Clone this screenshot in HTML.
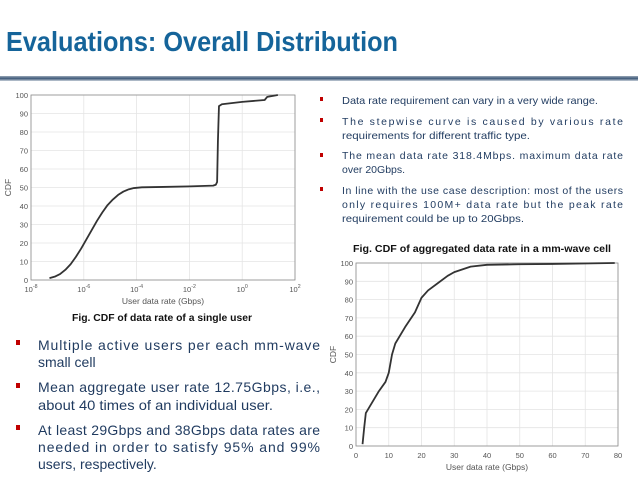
<!DOCTYPE html>
<html><head><meta charset="utf-8"><style>
html,body{margin:0;padding:0;background:#fff;}
svg{display:block;font-family:"Liberation Sans",sans-serif;}
.t{fill:#1f3a5f;}
</style></head><body>
<svg id="s" width="638" height="479" viewBox="0 0 638 479" xmlns="http://www.w3.org/2000/svg">
<defs><linearGradient id="g" x1="0" y1="0" x2="0" y2="1"><stop offset="0" stop-color="#9aa8b8"/><stop offset="0.5" stop-color="#3c5878"/><stop offset="1" stop-color="#c8d0da"/></linearGradient></defs>
<text x="6" y="51" font-size="28" font-weight="bold" fill="#15649a" textLength="392" lengthAdjust="spacingAndGlyphs">Evaluations:  Overall Distribution</text>
<rect x="0" y="76" width="638" height="5" fill="url(#g)"/>
<g id="left"></g>
<g id="right"></g>
<text x="72" y="321" font-size="10" font-weight="bold" fill="#111" textLength="180" lengthAdjust="spacingAndGlyphs">Fig. CDF of data rate of a single user</text>
<text x="353" y="252" font-size="10" font-weight="bold" fill="#111" textLength="258" lengthAdjust="spacingAndGlyphs">Fig. CDF of aggregated data rate in a mm-wave cell</text>
<g font-size="10.5" class="t">
<rect x="320" y="97" width="3" height="4" fill="#c00000"/><rect x="320" y="118" width="3" height="4" fill="#c00000"/><rect x="320" y="153" width="3" height="4" fill="#c00000"/><rect x="320" y="187" width="3" height="4" fill="#c00000"/>
<text x="342" y="104" textLength="256" lengthAdjust="spacingAndGlyphs">Data rate requirement can vary in a very wide range.</text>
<text x="342" y="125" textLength="281" lengthAdjust="spacing">The stepwise curve is caused by various rate</text>
<text x="342" y="139" textLength="188" lengthAdjust="spacingAndGlyphs">requirements for different traffic type.</text>
<text x="342" y="159" textLength="281" lengthAdjust="spacing">The mean data rate 318.4Mbps. maximum data rate</text>
<text x="342" y="173">over 20Gbps.</text>
<text x="342" y="194" textLength="281" lengthAdjust="spacing">In line with the use case description: most of the users</text>
<text x="342" y="208" textLength="281" lengthAdjust="spacing">only requires 100M+ data rate but the peak rate</text>
<text x="342" y="222" textLength="182" lengthAdjust="spacingAndGlyphs">requirement could be up to 20Gbps.</text>
</g>
<g font-size="14" class="t">
<rect x="16" y="340" width="4" height="5" fill="#c00000"/><rect x="16" y="383" width="4" height="5" fill="#c00000"/><rect x="16" y="425" width="4" height="5" fill="#c00000"/>
<text x="38" y="350" textLength="282" lengthAdjust="spacing">Multiple active users per each mm-wave</text>
<text x="38" y="367">small cell</text>
<text x="38" y="392" textLength="282" lengthAdjust="spacing">Mean aggregate user rate 12.75Gbps, i.e.,</text>
<text x="38" y="410" textLength="235" lengthAdjust="spacingAndGlyphs">about 40 times of an individual user.</text>
<text x="38" y="435" textLength="282" lengthAdjust="spacing">At least 29Gbps and 38Gbps data rates are</text>
<text x="38" y="452" textLength="282" lengthAdjust="spacing">needed in order to satisfy 95% and 99%</text>
<text x="38" y="469">users, respectively.</text>
</g>
</svg>
<script>
// Left chart data (log10 of Gbps, CDF %)
const leftLogX = [-7.3,-7.1,-6.9,-6.7,-6.5,-6.3,-6.1,-5.9,-5.7,-5.5,-5.3,-5.1,-4.9,-4.7,-4.5,-4.3,-4.1,-3.8,-3,-2,-1.1,-1.0,-0.95,-0.92,-0.88,-0.77,0,0.85,0.95,1.35];
const leftCdf = [1,1.8,3.2,5.5,8.5,12.5,17,22,27,32,36.5,40.5,43.5,46,47.8,49,49.7,50.1,50.3,50.6,51,51.5,53,75,94,95,96.3,97.3,99,100];
const leftXTicks = [-8,-6,-4,-2,0,2];
const yTicks = [0,10,20,30,40,50,60,70,80,90,100];
// Right chart data (Gbps, CDF %)
const rightX = [2,2.5,3,4,5,7,9,10,11,12,15,18,20,22,25,28,30,35,40,50,60,79];
const rightCdf = [1,10,18,21,24,30,35,40,50,56,65,73,81,85,89,93,95,98,99,99.3,99.5,100];
const rightXTicks = [0,10,20,30,40,50,60,70,80];

const NS="http://www.w3.org/2000/svg";
function mk(p,t,a){const e=document.createElementNS(NS,t);for(const k in a)e.setAttribute(k,a[k]);p.appendChild(e);return e;}
function chart(g,L,R,T,B,xmin,xmax,xt,xs,ys,ylab,xlab,xlabel,fs){
  const sx=v=>L+(v-xmin)/(xmax-xmin)*(R-L), sy=v=>B-v/100*(B-T);
  xt.forEach(v=>{const l=mk(g,'line',{x1:sx(v),x2:sx(v),y1:T,y2:B,stroke:'#e4e4e4','stroke-width':0.8});
    
    
    const t=mk(g,'text',{x:sx(v),y:B+12,'font-size':fs,fill:'#555','text-anchor':'middle'});
    
    
    if(xlab==='log'){t.textContent='10';const s=mk(t,'tspan',{dy:-4,'font-size':fs*0.7});s.textContent=String(v);}
    else t.textContent=v;});
  yTicks.forEach(v=>{const l=mk(g,'line',{x1:L,x2:R,y1:sy(v),y2:sy(v),stroke:'#e4e4e4','stroke-width':0.8});
    
    
    const t=mk(g,'text',{x:L-3,y:sy(v)+3,'font-size':fs,fill:'#555','text-anchor':'end'});
    
    
    t.textContent=v;});
  const b=mk(g,'rect',{x:L,y:T,width:R-L,height:B-T,fill:'none',stroke:'#8a8a8a','stroke-width':0.8});
  
  
  const p=mk(g,'polyline',{points:xs.map((x,i)=>sx(x)+','+sy(ys[i])).join(' '),fill:'none',stroke:'#333','stroke-width':1.8,'stroke-linejoin':'round'});
  
  
  const xl=mk(g,'text',{x:(L+R)/2,y:B+24,'font-size':fs+1,fill:'#555','text-anchor':'middle'});
  
  
  xl.textContent=xlabel;
  const yl=mk(g,'text',{x:0,y:0,'font-size':fs+1,fill:'#555','text-anchor':'middle',transform:`translate(${L-20},${(T+B)/2}) rotate(-90)`});
  
  
  yl.textContent='CDF';
}
chart(document.getElementById('left'),31,295,95,280,-8,2,leftXTicks,leftLogX,leftCdf,'','log','User data rate (Gbps)',7.5);
chart(document.getElementById('right'),356,618,263,446,0,80,rightXTicks,rightX,rightCdf,'','lin','User data rate (Gbps)',7.5);
</script>
</body></html>
